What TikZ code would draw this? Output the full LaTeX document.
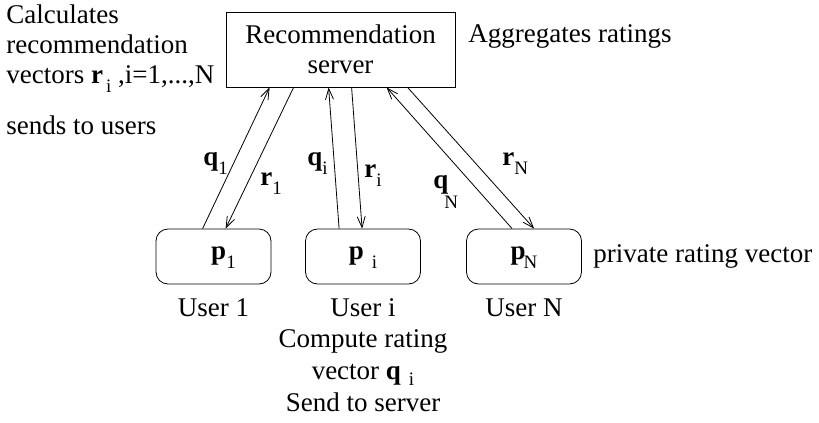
\documentclass[tikz,border=0pt]{standalone}
\usepackage{fontspec}
\setmainfont{Liberation Serif}
\usetikzlibrary{positioning,arrows.meta}

\newcommand\vsub[3][0bp]{\textbf{#2}\hspace{#1}\raisebox{-9bp}[0pt][0pt]{\fontsize{19bp}{19bp}\selectfont #3}}

\tikzset{
  txt/.style={inner sep=0pt, font=\fontsize{27bp}{30bp}\selectfont},
  srvbox/.style={txt, draw, align=center, minimum width=229bp, minimum height=75bp},
  userbox/.style={txt, draw, rounded corners=12bp, minimum width=115bp, minimum height=55bp},
  msg/.style={-{Straight Barb[length=11bp,width=8bp]}}
}

\begin{document}
\begin{tikzpicture}[x=1bp,y=-1bp,line width=0.8bp]
\useasboundingbox (0,0) rectangle (819,422);
\node[srvbox] (srv) at (340.5,49.5) {Recommendation\\server};
\node[txt, anchor=base west] (agg) at (468,42) {Aggregates ratings};
\node[txt, anchor=north west, align=left] (calc) at (6,4) {Calculates\\recommendation\\vectors \vsub[3bp]{r}{i}\ ,i=1,...,N};
\node[txt, below=28bp of calc.south west, anchor=north west] (sends) {sends to users};

\node[userbox] (u1) at (213.5,256.5) {\hspace{20bp}\vsub{p}{1}};
\node[userbox] (ui) at (363,256.5) {\vsub[8bp]{p}{i}};
\node[userbox] (uN) at (524,256.5) {\vsub[-2bp]{p}{N}};
\node[txt, right=11bp of uN] (priv) {private rating vector};

\node[txt, below=14bp of u1] (n1) {User 1};
\node[txt, below=14bp of ui] (ni) {User i};
\node[txt, below=14bp of uN] (nN) {User N};
\node[txt, below=12bp of ni, align=center] (comp) {Compute rating\\[2bp]vector \textbf{q}\hspace{8bp}\raisebox{-6bp}[0pt][0pt]{\fontsize{19bp}{19bp}\selectfont i}\\[2bp]Send to server};

\draw[msg] ([xshift=47bp]u1.north west) -- ([xshift=44bp]srv.south west);
\draw[msg] ([xshift=68bp]srv.south west) -- ([xshift=70bp]u1.north west);
\draw[msg] ([xshift=34bp]ui.north west) -- ([xshift=103bp]srv.south west);
\draw[msg] ([xshift=126bp]srv.south west) -- ([xshift=57bp]ui.north west);
\draw[msg] ([xshift=46bp]uN.north west) -- ([xshift=161bp]srv.south west);
\draw[msg] ([xshift=182bp]srv.south west) -- ([xshift=68bp]uN.north west);

\node[txt, anchor=base west] (q1) at (203,165) {\vsub{q}{1}};
\node[txt, anchor=base west] (r1) at (260,185) {\vsub{r}{1}};
\node[txt, anchor=base west] (qi) at (307,165) {\vsub{q}{i}};
\node[txt, anchor=base west] (ri) at (364,177) {\vsub{r}{i}};
\node[txt, anchor=base west] (qN) at (433,188) {\textbf{q}\hspace{-4bp}\raisebox{-20bp}[0pt][0pt]{\fontsize{19bp}{19bp}\selectfont N}};
\node[txt, anchor=base west] (rN) at (502,165) {\vsub{r}{N}};
\end{tikzpicture}
\end{document}
